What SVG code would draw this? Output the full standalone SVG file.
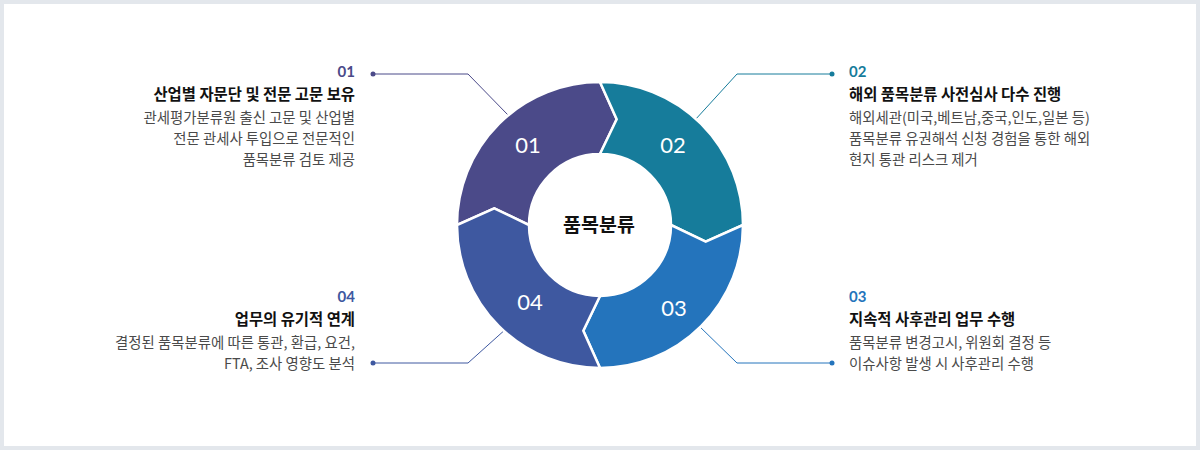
<svg xmlns="http://www.w3.org/2000/svg" width="1200" height="450" viewBox="0 0 1200 450">
<style>
.num{font-family:Lato,"Noto Sans",sans-serif;font-weight:700;font-size:15px}
.ttl{font-family:"Noto Sans CJK KR","Noto Sans",sans-serif;font-weight:700;font-size:15.4px;fill:#111}
.body{font-family:"Noto Sans CJK KR","Noto Sans",sans-serif;font-size:14.4px;fill:#4a4a4a}
.rn{font-family:Lato,"Noto Sans",sans-serif;font-size:22px;fill:#fff;text-anchor:middle}
.seg{stroke:#fff;stroke-width:2.5;stroke-linejoin:miter}
.ln{fill:none;stroke-width:1}
.r{text-anchor:end}
</style>
<rect x="0" y="0" width="1200" height="450" fill="#e3e7ec"/>
<rect x="4" y="4" width="1192" height="442" fill="#fff"/>
<g id="connectors">
<path class="ln" stroke="#4b4a89" d="M373,74 H468 L508,115"/>
<circle cx="373" cy="74" r="2.5" fill="#4b4a89"/>
<path class="ln" stroke="#167c9b" d="M832,74 H737 L695,120"/>
<circle cx="832" cy="74" r="2.5" fill="#167c9b"/>
<path class="ln" stroke="#2474bc" d="M832,363 H737 L698,325"/>
<circle cx="832" cy="363" r="2.5" fill="#2474bc"/>
<path class="ln" stroke="#3e58a0" d="M373,363 H468 L507,328"/>
<circle cx="373" cy="363" r="2.5" fill="#3e58a0"/>
</g>
<g id="seg01">
<path class="seg" fill="#4b4a89" d="M457,225 A143,143 0 0 1 600,82 L616.7,119.3 L600,154 A71,71 0 0 0 529,225 L494.3,208.3 Z"/>
<text class="rn" x="528" y="153">01</text>
</g>
<g id="seg02">
<path class="seg" fill="#167c9b" d="M600,82 A143,143 0 0 1 743,225 L705.7,241.7 L671,225 A71,71 0 0 0 600,154 L616.7,119.3 Z"/>
<text class="rn" x="673" y="153">02</text>
</g>
<g id="seg03">
<path class="seg" fill="#2474bc" d="M743,225 A143,143 0 0 1 600,368 L583.3,330.7 L600,296 A71,71 0 0 0 671,225 L705.7,241.7 Z"/>
<text class="rn" x="674" y="316">03</text>
</g>
<g id="seg04">
<path class="seg" fill="#3e58a0" d="M600,368 A143,143 0 0 1 457,225 L494.3,208.3 L529,225 A71,71 0 0 0 600,296 L583.3,330.7 Z"/>
<text class="rn" x="530" y="310">04</text>
</g>
<g id="center">
<text x="599" y="232" text-anchor="middle" font-family="'Noto Sans CJK KR','Noto Sans',sans-serif" font-weight="700" font-size="19.5" fill="#111">품목분류</text>
</g>
<g id="item01">
<text class="num r" x="355" y="77" fill="#4b4a89">01</text>
<text class="ttl r" x="355" y="100">산업별 자문단 및 전문 고문 보유</text>
<text class="body r" x="355" y="123">관세평가분류원 출신 고문 및 산업별</text>
<text class="body r" x="355" y="144">전문 관세사 투입으로 전문적인</text>
<text class="body r" x="355" y="165">품목분류 검토 제공</text>
</g>
<g id="item02">
<text class="num" x="849" y="77" fill="#167c9b">02</text>
<text class="ttl" x="849" y="100">해외 품목분류 사전심사 다수 진행</text>
<text class="body" x="849" y="123">해외세관(미국,베트남,중국,인도,일본 등)</text>
<text class="body" x="849" y="144">품목분류 유권해석 신청 경험을 통한 해외</text>
<text class="body" x="849" y="165">현지 통관 리스크 제거</text>
</g>
<g id="item03">
<text class="num" x="849" y="302" fill="#2474bc">03</text>
<text class="ttl" x="849" y="325">지속적 사후관리 업무 수행</text>
<text class="body" x="849" y="348">품목분류 변경고시, 위원회 결정 등</text>
<text class="body" x="849" y="369">이슈사항 발생 시 사후관리 수행</text>
</g>
<g id="item04">
<text class="num r" x="355" y="302" fill="#3e58a0">04</text>
<text class="ttl r" x="355" y="325">업무의 유기적 연계</text>
<text class="body r" x="355" y="348">결정된 품목분류에 따른 통관, 환급, 요건,</text>
<text class="body r" x="355" y="369">FTA, 조사 영향도 분석</text>
</g>
</svg>
